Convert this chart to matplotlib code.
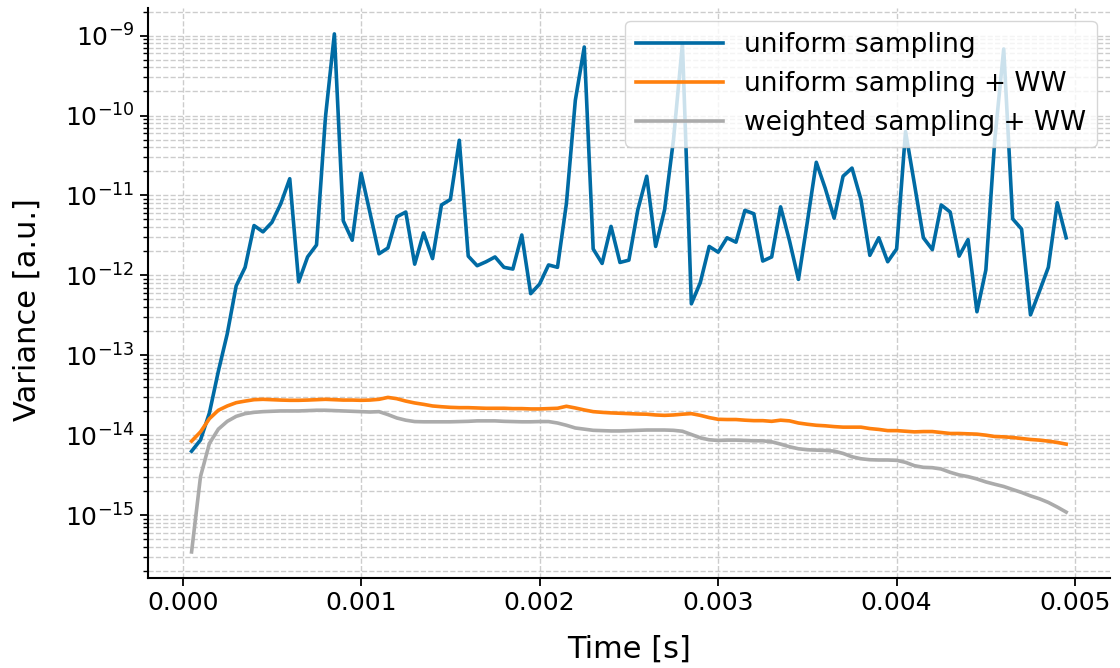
import numpy as np
import matplotlib
matplotlib.use("Agg")
import matplotlib.pyplot as plt

# time grid: 99 samples, every 50 us
dt = 5e-5
time = dt * np.arange(1, 100)

# uniform sampling (no weight windows)
var_uniform = np.array([
    6.3e-15, 8.7e-15, 1.9e-14, 6.3e-14, 1.86e-13, 7.4e-13, 1.26e-12, 4.2e-12, 3.5e-12, 4.6e-12,
    7.9e-12, 1.62e-11, 8.3e-13, 1.70e-12, 2.4e-12, 9.5e-11, 1.05e-9, 4.8e-12, 2.75e-12, 1.9e-11,
    6.0e-12, 1.86e-12, 2.2e-12, 5.4e-12, 6.2e-12, 1.38e-12, 3.4e-12, 1.62e-12, 7.6e-12, 8.9e-12,
    4.9e-11, 1.74e-12, 1.32e-12, 1.48e-12, 1.70e-12, 1.26e-12, 1.20e-12, 3.2e-12, 5.9e-13, 7.8e-13,
    1.35e-12, 1.26e-12, 7.9e-12, 1.55e-10, 7.2e-10, 2.14e-12, 1.41e-12, 4.1e-12, 1.45e-12, 1.55e-12,
    6.6e-12, 1.74e-11, 2.3e-12, 6.6e-12, 5.0e-11, 7.9e-10, 4.4e-13, 8.1e-13, 2.3e-12, 1.95e-12,
    2.95e-12, 2.6e-12, 6.5e-12, 5.9e-12, 1.51e-12, 1.70e-12, 7.2e-12, 2.7e-12, 8.9e-13, 4.7e-12,
    2.6e-11, 1.23e-11, 5.2e-12, 1.74e-11, 2.2e-11, 8.9e-12, 1.78e-12, 2.95e-12, 1.48e-12, 2.14e-12,
    6.3e-11, 1.38e-11, 2.95e-12, 2.1e-12, 7.6e-12, 6.2e-12, 1.74e-12, 2.8e-12, 3.5e-13, 1.17e-12,
    5.0e-11, 6.8e-10, 5.1e-12, 3.8e-12, 3.2e-13, 6.3e-13, 1.26e-12, 8.1e-12, 2.95e-12,
])

# uniform sampling + weight windows (units of 1e-14)
var_uniform_ww = 1e-14 * np.array([
    0.842, 1.10, 1.61, 2.05, 2.32, 2.55, 2.67, 2.78, 2.81, 2.78,
    2.75, 2.73, 2.73, 2.75, 2.78, 2.81, 2.78, 2.75, 2.75, 2.73,
    2.75, 2.81, 2.97, 2.86, 2.67, 2.53, 2.43, 2.32, 2.27, 2.23,
    2.21, 2.21, 2.19, 2.17, 2.17, 2.17, 2.15, 2.15, 2.13, 2.13,
    2.15, 2.17, 2.30, 2.19, 2.07, 1.97, 1.93, 1.90, 1.88, 1.86,
    1.84, 1.83, 1.79, 1.77, 1.79, 1.83, 1.86, 1.77, 1.66, 1.58,
    1.57, 1.57, 1.54, 1.52, 1.52, 1.49, 1.54, 1.51, 1.42, 1.37,
    1.33, 1.31, 1.28, 1.26, 1.26, 1.26, 1.21, 1.18, 1.14, 1.14,
    1.12, 1.10, 1.11, 1.11, 1.08, 1.05, 1.05, 1.04, 1.03, 1.00,
    0.962, 0.953, 0.935, 0.909, 0.883, 0.867, 0.842, 0.811, 0.773,
])

# weighted sampling + weight windows (units of 1e-14)
var_weighted_ww = 1e-14 * np.array([
    0.0346, 0.303, 0.788, 1.19, 1.49, 1.72, 1.86, 1.93, 1.97, 1.99,
    2.01, 2.01, 2.01, 2.03, 2.05, 2.05, 2.03, 2.01, 1.99, 1.97,
    1.95, 1.97, 1.81, 1.64, 1.54, 1.48, 1.47, 1.47, 1.47, 1.47,
    1.48, 1.49, 1.51, 1.51, 1.51, 1.49, 1.48, 1.47, 1.47, 1.48,
    1.48, 1.42, 1.33, 1.23, 1.19, 1.15, 1.14, 1.13, 1.13, 1.14,
    1.15, 1.16, 1.16, 1.16, 1.15, 1.12, 1.02, 0.927, 0.875, 0.859,
    0.867, 0.867, 0.859, 0.850, 0.850, 0.826, 0.773, 0.716, 0.676, 0.657,
    0.650, 0.644, 0.632, 0.591, 0.537, 0.507, 0.493, 0.489, 0.489, 0.484,
    0.457, 0.415, 0.396, 0.392, 0.377, 0.343, 0.318, 0.303, 0.283, 0.260,
    0.243, 0.228, 0.209, 0.192, 0.174, 0.160, 0.144, 0.126, 0.109,
])

labels = ["uniform sampling", "uniform sampling + WW", "weighted sampling + WW"]
colors = ["#006BA4", "#FF800E", "#ABABAB"]

fig, ax = plt.subplots(figsize=(11.2, 6.68), dpi=100)
fig.subplots_adjust(left=0.132, right=0.991, bottom=0.135, top=0.988)

for y, lab, c in zip([var_uniform, var_uniform_ww, var_weighted_ww], labels, colors):
    ax.plot(time, y, color=c, lw=2.6, label=lab)

ax.set_yscale("log")
ax.set_xticks([0, 0.001, 0.002, 0.003, 0.004, 0.005])

ax.grid(True, which="major", axis="x", ls="--", color="#cccccc", lw=1)
ax.grid(True, which="both", axis="y", ls="--", color="#cccccc", lw=1)

for s in ["top", "right"]:
    ax.spines[s].set_visible(False)
for s in ["left", "bottom"]:
    ax.spines[s].set_linewidth(1.5)

ax.tick_params(which="major", labelsize=18, length=6, width=1.3)
ax.tick_params(which="minor", length=3.5, width=1.0)

ax.set_xlabel("Time [s]", fontsize=22, labelpad=14)
ax.set_ylabel("Variance [a.u.]", fontsize=22)
ax.yaxis.set_label_coords(-0.110, 0.47)

ax.legend(loc="upper right", fontsize=19, handlelength=3.3)

fig.savefig("out.png", dpi=100)
